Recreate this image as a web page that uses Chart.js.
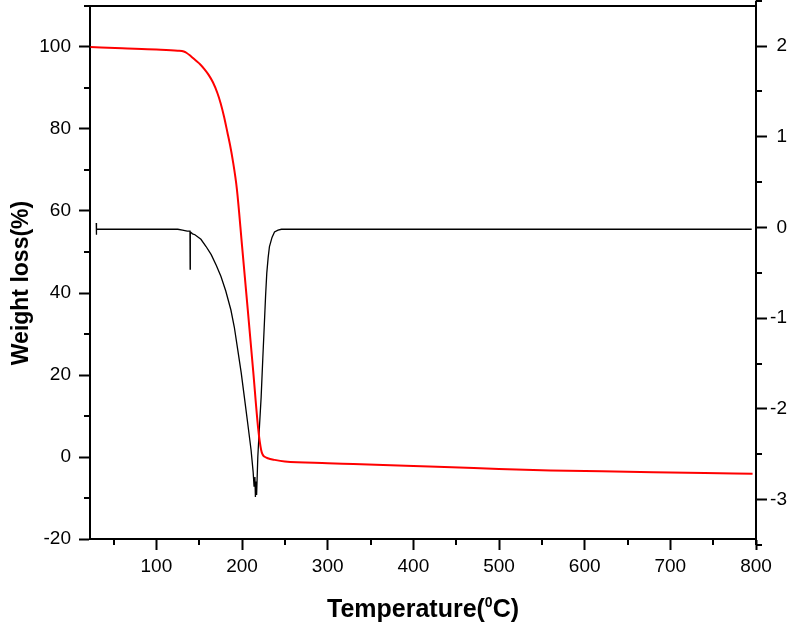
<!DOCTYPE html>
<html>
<head>
<meta charset="utf-8">
<script src="https://cdn.jsdelivr.net/npm/chart.js@4.4.1/dist/chart.umd.min.js"></script>
<style>
  html, body { margin: 0; padding: 0; background: #fff; }
  #wrap { width: 787px; height: 625px; }
</style>
</head>
<body>
<div id="wrap"><canvas id="chart" width="787" height="625"></canvas></div>
<script>
'use strict'

// TG curve (left axis, weight %)
const tgTemp = [23, 60, 100, 125, 132, 135, 140, 146, 151, 156, 161, 166, 171, 175, 179, 183, 186, 189, 194, 200, 206.7, 213, 219,
    222.3, 224, 226, 230, 238, 250, 300, 330, 400, 445, 500, 560, 620, 680, 740, 796]
const tgWeight = [100, 99.7, 99.4, 99.1, 98.9, 98.6, 97.8, 96.7, 95.8, 94.6, 93.2, 91.4, 88.9, 86.3, 83.0, 79.1, 76.1, 72.6, 65.3, 51.5, 35.9, 21, 6.6,
    1.7, 0.6, 0.1, -0.3, -0.7, -1.1, -1.5, -1.7, -2.2, -2.5, -2.95, -3.3, -3.5, -3.7, -3.9, -4.1]

// DTG curve (right axis)
const dtgTemp = [29.8, 29.9, 30.2, 60, 100, 125, 130.5, 136, 139.2, 139.4, 139.6, 142.2, 145, 152, 158, 164, 170,
    175.4, 181, 187, 191, 195, 199, 202.7, 206.5, 210.5, 213, 214, 215, 215.6, 216.3, 217, 218.4, 220.3, 222.3,
    224.2, 226.1, 227.5, 228.9, 230.5, 232, 235, 237.9, 242, 246, 300, 400, 500, 600, 700, 795]
const dtgValue = [0.05, -0.08, -0.02, -0.02, -0.02, -0.02, -0.03, -0.04, -0.04, -0.46, -0.05, -0.07, -0.08, -0.13, -0.21, -0.30, -0.42,
    -0.54, -0.70, -0.91, -1.1, -1.35, -1.6, -1.87, -2.15, -2.45, -2.7, -2.85, -2.75, -2.97, -2.8, -2.95, -2.53, -2.2, -1.87,
    -1.45, -1.05, -0.75, -0.50, -0.33, -0.21, -0.11, -0.05, -0.03, -0.02, -0.02, -0.02, -0.02, -0.02, -0.02, -0.02]

// ticks
const xTicks = [100, 200, 300, 400, 500, 600, 700, 800]
const xMinor = [50, 150, 250, 350, 450, 550, 650, 750]
const yTicks = [-20, 0, 20, 40, 60, 80, 100]
const yMinor = [-10, 10, 30, 50, 70, 90, 110]
const y2Ticks = [-3, -2, -1, 0, 1, 2]
const y2Minor = [-3.5, -2.5, -1.5, -0.5, 0.5, 1.5, 2.5]

const FONT = '"Liberation Sans", Arial, sans-serif'
const ctx = document.querySelector('#chart').getContext('2d')

const toPoints = (xs, ys) => xs.map((x, i) => ({ x: x, y: ys[i] }))
const setTicks = list => scale => { scale.ticks = list.map(v => ({ value: v })) }
const fixSize = (w, h) => scale => {
    if (w) scale.width = w
    if (h) scale.height = h
    scale.paddingTop = 0
    scale.paddingBottom = 0
    scale.paddingLeft = 0
    scale.paddingRight = 0
}

const axisStyle = {
    border: { display: true, color: '#000', width: 2 },
    grid: { drawOnChartArea: false, tickLength: 11, tickColor: '#000', tickWidth: 2 },
}

const decorations = {
    id: 'decorations',
    afterDraw(chart) {
        const { ctx, chartArea: a, scales: { x, y, y2 } } = chart
        ctx.save()
        ctx.strokeStyle = '#000'
        ctx.lineWidth = 2
        ctx.beginPath()
        // top frame
        ctx.moveTo(a.left - 1, a.top)
        ctx.lineTo(a.right, a.top)
        // right axis runs a little past the plot
        ctx.moveTo(a.right, y2.getPixelForValue(2.5))
        ctx.lineTo(a.right, y2.getPixelForValue(-3.5))
        // minor ticks
        xMinor.forEach(v => {
            const px = Math.round(x.getPixelForValue(v))
            ctx.moveTo(px, a.bottom)
            ctx.lineTo(px, a.bottom + 6)
        })
        yMinor.forEach(v => {
            const py = Math.round(y.getPixelForValue(v))
            ctx.moveTo(a.left - 6, py)
            ctx.lineTo(a.left, py)
        })
        y2Minor.forEach(v => {
            const py = Math.round(y2.getPixelForValue(v))
            ctx.moveTo(a.right, py)
            ctx.lineTo(a.right + 6, py)
        })
        ctx.stroke()

        // axis titles
        ctx.fillStyle = '#000'
        ctx.textBaseline = 'alphabetic'
        const big = 'bold 25px ' + FONT
        const small = 'bold 14px ' + FONT
        const partA = 'Temperature(', sup = '0', partB = 'C)'
        ctx.font = big
        const wa = ctx.measureText(partA).width
        const wb = ctx.measureText(partB).width
        ctx.font = small
        const ws = ctx.measureText(sup).width
        let tx = (a.left + a.right) / 2 - (wa + ws + wb) / 2
        const ty = 617
        ctx.textAlign = 'left'
        ctx.font = big
        ctx.fillText(partA, tx, ty)
        ctx.font = small
        ctx.fillText(sup, tx + wa, ty - 10)
        ctx.font = big
        ctx.fillText(partB, tx + wa + ws, ty)

        ctx.translate(22, 283)
        ctx.rotate(-Math.PI / 2)
        ctx.font = 'bold 23px ' + FONT
        ctx.textAlign = 'center'
        ctx.textBaseline = 'middle'
        ctx.fillText('Weight loss(%)', 0, 0)
        ctx.restore()
    }
}

const config = {
    type: 'scatter',
    data: {
        datasets: [{
            label: 'TG',
            data: toPoints(tgTemp, tgWeight),
            yAxisID: 'y',
            showLine: true,
            cubicInterpolationMode: 'monotone',
            borderColor: '#ff0000',
            borderWidth: 2,
            pointRadius: 0,
            order: 0
        }, {
            label: 'DTG',
            data: toPoints(dtgTemp, dtgValue),
            yAxisID: 'y2',
            showLine: true,
            borderColor: '#000',
            borderWidth: 1.3,
            pointRadius: 0,
            order: 1
        }]
    },
    options: {
        responsive: false,
        animation: false,
        devicePixelRatio: 1,
        layout: { padding: { top: 6, left: 0, right: 0, bottom: 0 } },
        plugins: { legend: { display: false }, tooltip: { enabled: false } },
        scales: {
            x: {
                ...axisStyle,
                type: 'linear',
                position: 'bottom',
                min: 22.5,
                max: 800,
                afterBuildTicks: setTicks(xTicks),
                afterFit: fixSize(0, 86),
                ticks: { color: '#000', font: { family: FONT, size: 19 }, padding: 5, maxRotation: 0, callback: v => String(v) }
            },
            y: {
                ...axisStyle,
                type: 'linear',
                position: 'left',
                min: -20,
                max: 110,
                afterBuildTicks: setTicks(yTicks),
                afterFit: fixSize(90, 0),
                ticks: { color: '#000', font: { family: FONT, size: 19 }, padding: 8, callback: v => String(v) }
            },
            y2: {
                ...axisStyle,
                type: 'linear',
                position: 'right',
                min: -3.434,
                max: 2.441,
                afterBuildTicks: setTicks(y2Ticks),
                afterFit: fixSize(31, 0),
                ticks: { color: '#000', font: { family: FONT, size: 19 }, padding: 3, crossAlign: 'far', callback: v => String(v) }
            }
        }
    },
    plugins: [decorations]
}

const chart = new Chart(ctx, config)
</script>
</body>
</html>
